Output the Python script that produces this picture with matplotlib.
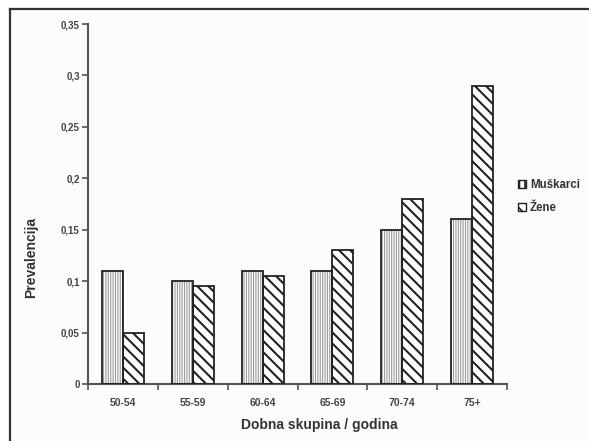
import matplotlib
matplotlib.use("Agg")
import matplotlib.pyplot as plt
import numpy as np
from matplotlib.patches import Rectangle
from matplotlib.lines import Line2D

categories = ["50-54", "55-59", "60-64", "65-69", "70-74", "75+"]
muskarci = [0.11, 0.10, 0.11, 0.11, 0.15, 0.16]
zene = [0.05, 0.095, 0.105, 0.13, 0.18, 0.29]
yticks = [0, 0.05, 0.1, 0.15, 0.2, 0.25, 0.3, 0.35]
ytick_labels = ["0", "0,05", "0,1", "0,15", "0,2", "0,25", "0,3", "0,35"]
series_names = ["Muškarci", "Žene"]

plt.rcParams['font.family'] = ['Liberation Sans', 'DejaVu Sans']
W, H = 589, 441
fig = plt.figure(figsize=(W / 100, H / 100), dpi=100)
fig.patch.set_facecolor('white')

# outer frame
fig.add_artist(Rectangle((10 / W, 0), 1, 1 - 9 / H, transform=fig.transFigure,
                         facecolor='#fcfcfc', edgecolor='none', zorder=-10))
fig.add_artist(Line2D([10 / W, 10 / W], [0, 1 - 9 / H], transform=fig.transFigure,
                      color='#333333', lw=1.6))
fig.add_artist(Line2D([10 / W, 1], [1 - 9 / H, 1 - 9 / H], transform=fig.transFigure,
                      color='#333333', lw=1.6))

ax = fig.add_axes([88 / W, 1 - 384 / H, (507 - 88) / W, (384 - 24) / H])
ax.set_facecolor('none')

x = np.arange(len(categories))
bw = 0.3

# Muškarci: white fill with grey vertical hatch, black edge
plt.rcParams['hatch.linewidth'] = 0.8
ax.bar(x - bw / 2, muskarci, bw, color='white', edgecolor='#9a9a9a',
       hatch='|||||||', linewidth=0, zorder=2)
ax.bar(x - bw / 2, muskarci, bw, facecolor='none', edgecolor='#222222',
       linewidth=1.3, zorder=3)

# Žene: white fill with black diagonal hatch
plt.rcParams['hatch.linewidth'] = 1.5
ax.bar(x + bw / 2, zene, bw, color='white', edgecolor='#222222',
       hatch='\\\\\\', linewidth=0, zorder=2)
ax.bar(x + bw / 2, zene, bw, facecolor='none', edgecolor='#222222',
       linewidth=1.3, zorder=3)

ax.set_xlim(-0.5, len(categories) - 0.5)
ax.set_ylim(0, 0.35)

for s in ['top', 'right']:
    ax.spines[s].set_visible(False)
for s in ['left', 'bottom']:
    ax.spines[s].set_color('#555555')
    ax.spines[s].set_linewidth(1.5)

ax.set_yticks(yticks)
ax.set_yticklabels(ytick_labels, fontsize=7, fontweight='bold', color='#444444')
ax.tick_params(axis='y', direction='out', length=4, width=1.2, color='#555555', pad=2)

ax.set_xticks(np.arange(len(categories) + 1) - 0.5)
ax.set_xticklabels([])
ax.tick_params(axis='x', which='major', direction='out', length=4, width=1.2, color='#555555')
ax.set_xticks(x, minor=True)
ax.set_xticklabels(categories, minor=True, fontsize=7.5, fontweight='bold', color='#444444')
ax.tick_params(axis='x', which='minor', length=0, pad=10)

fig.text(31 / W, 1 - 258 / H, "Prevalencija", rotation=90, ha='center', va='center',
         fontsize=10, fontweight='bold', color='#333333')
fig.text(319 / W, 1 - 425 / H, "Dobna skupina / godina", ha='center', va='center',
         fontsize=10, fontweight='bold', color='#333333')

# legend
plt.rcParams['hatch.linewidth'] = 0.8
h1 = Rectangle((0, 0), 1, 1, facecolor='white', edgecolor='#222222', hatch='|||', linewidth=1.0)
plt.rcParams['hatch.linewidth'] = 1.2
h2 = Rectangle((0, 0), 1, 1, facecolor='white', edgecolor='#222222', hatch='\\\\\\', linewidth=1.0)
leg = fig.legend([h1, h2], series_names, loc='upper left',
                 bbox_to_anchor=(512 / W, 1 - 173 / H), frameon=False,
                 prop={'size': 8.3, 'weight': 'bold'}, handlelength=0.75,
                 handleheight=0.75, handletextpad=0.3, labelspacing=1.0, borderpad=0)
for t in leg.get_texts():
    t.set_color('#333333')

fig.savefig("out.png", dpi=100)
